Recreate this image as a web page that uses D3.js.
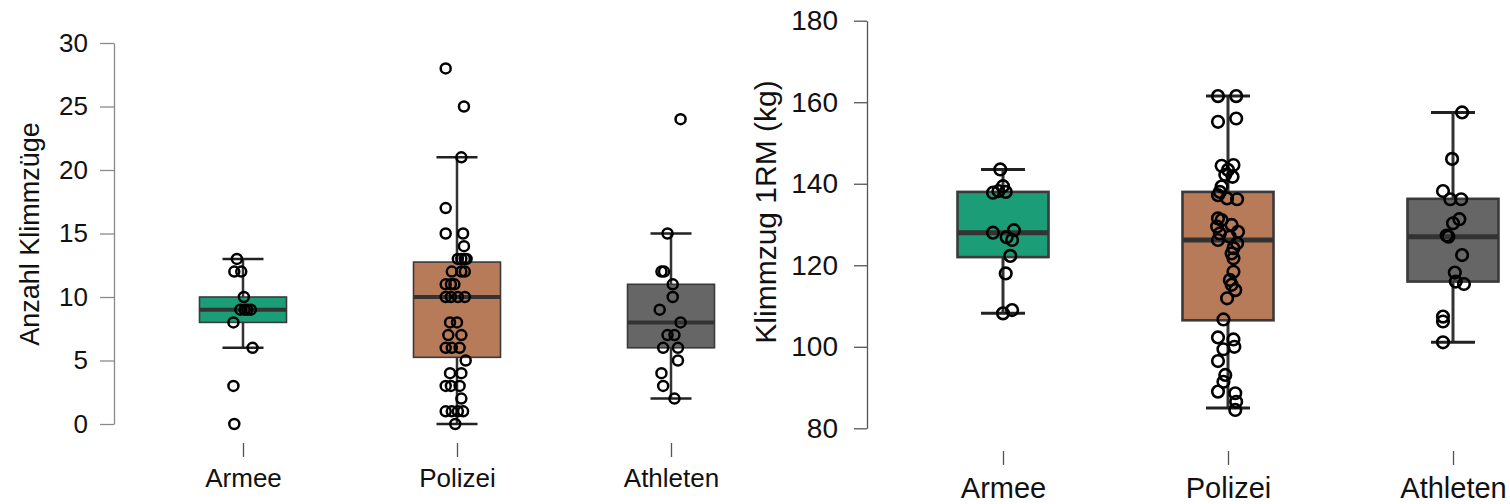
<!DOCTYPE html>
<html>
<head>
<meta charset="utf-8">
<script src="https://cdn.jsdelivr.net/npm/d3@7"></script>
<style>
  html, body { margin: 0; padding: 0; background: #fff; }
  svg { display: block; font-family: "Liberation Sans", Arial, sans-serif; }
</style>
</head>
<body>
<svg id="chart" width="1510" height="504"></svg>
<script>
// Groups
const groups = ["Armee", "Polizei", "Athleten"];
const groupColors = ["#1b9e77", "#b77b5a", "#666666"];

// Panel 1: number of pull-ups
const repsTicks = [0, 5, 10, 15, 20, 25, 30];
const repsQ1 = [8, 5.25, 6];
const repsMedian = [9, 10, 8];
const repsQ3 = [10, 12.75, 11];
const repsWhiskerLow = [6, 0, 2];
const repsWhiskerHigh = [13, 21, 15];

const repsArmee = [13, 12, 12, 10, 9, 9, 9, 9, 8, 6, 3, 0];
const repsArmeeJitter = [-0.07, -0.10, -0.02, 0.01, -0.03, 0.02, 0.05, 0.09, -0.11, 0.11, -0.11, -0.10];
const repsPolizei = [28, 25, 21, 17, 15, 15, 14, 13, 13, 13, 13, 12, 12, 12, 11, 11, 11, 10, 10, 10, 10,
  8, 8, 7, 7, 6, 6, 6, 5, 4, 4, 3, 3, 3, 2, 1, 1, 1, 1, 0];
const repsPolizeiJitter = [-0.13, 0.08, 0.05, -0.13, -0.13, 0.07, 0.08, 0.01, 0.05, 0.09, 0.11, -0.06, 0.05, 0.09,
  -0.13, -0.07, -0.03, -0.13, -0.07, 0.01, 0.09, -0.08, 0.0, -0.10, 0.05, -0.13, -0.06, 0.03, 0.10,
  -0.08, 0.05, -0.13, -0.07, 0.03, 0.05, -0.13, -0.06, 0.01, 0.07, -0.02];
const repsAthleten = [24, 15, 12, 12, 11, 10, 9, 8, 7, 7, 6, 6, 5, 4, 3, 2];
const repsAthletenJitter = [0.11, -0.04, -0.11, -0.08, 0.02, 0.02, -0.13, 0.11, -0.04, 0.04, -0.09, 0.08, 0.08, -0.11, -0.09, 0.04];

// Panel 2: pull-up 1RM in kg
const rmTicks = [80, 100, 120, 140, 160, 180];
const rmQ1 = [122, 106.5, 116];
const rmMedian = [128, 126.2, 127];
const rmQ3 = [138, 138, 136.3];
const rmWhiskerLow = [108.2, 85, 101.1];
const rmWhiskerHigh = [143.5, 161.5, 157.5];

const rmArmee = [143.5, 137.8, 138.2, 139.4, 138, 128, 128.6, 126.9, 126.2, 122.3, 118, 109, 108.2];
const rmArmeeJitter = [-0.03, -0.11, -0.05, 0.0, 0.03, -0.11, 0.12, 0.04, 0.10, 0.08, 0.03, 0.10, 0.0];
const rmPolizei = [161.5, 161.5, 156, 155.2, 144.6, 144.4, 143.4, 142.2, 141.7, 139.3, 138, 137.2, 136.4, 136.2,
  131.5, 131.1, 129.9, 129.5, 128.2, 127.8, 127, 126.2, 125.4, 124.2, 122.9, 121.7, 118.4, 116.4, 115.2,
  113.9, 111.9, 106.7, 102.3, 101.8, 100, 99.4, 96.5, 93.1, 91.4, 89, 88.6, 86.5, 84.5];
const rmPolizeiJitter = [-0.11, 0.09, 0.09, -0.11, 0.06, -0.07, 0.0, -0.03, 0.05, -0.07, -0.09, -0.11, -0.01, 0.10,
  -0.11, -0.07, 0.04, -0.12, 0.11, -0.09, 0.02, -0.11, 0.10, 0.06, 0.04, 0.06, 0.06, 0.02, 0.04,
  0.08, -0.01, -0.05, -0.11, 0.06, 0.07, -0.05, -0.11, -0.03, -0.05, -0.11, 0.08, 0.09, 0.08];
const rmAthleten = [157.5, 146.1, 138.2, 136.2, 136.2, 131.3, 130.3, 127.3, 127, 122.5, 118.2, 116, 115.4, 107.4, 106.2, 101.1];
const rmAthletenJitter = [0.10, -0.01, -0.11, -0.03, 0.09, 0.07, 0.0, -0.07, -0.05, 0.10, 0.02, 0.03, 0.12, -0.11, -0.11, -0.11];

const svg = d3.select("#chart");

function drawPanel(cfg) {
  const g = svg.append("g");
  const y = d3.scaleLinear().domain(cfg.domain).range(cfg.yRange);
  const x = d3.scalePoint().domain(groups).range(cfg.xRange);

  // value axis
  const yAxis = g.append("g")
    .attr("transform", `translate(${cfg.axisX},0)`)
    .call(d3.axisLeft(y).tickValues(cfg.ticks).tickSize(cfg.tickLen).tickSizeOuter(0).tickPadding(cfg.tickPad));
  yAxis.select(".domain").attr("stroke", cfg.axisColor).attr("stroke-width", 1.3);
  yAxis.selectAll(".tick line").attr("stroke", cfg.axisColor).attr("stroke-width", 1.3);
  yAxis.selectAll(".tick text").attr("font-size", cfg.tickFont).attr("fill", "#111")
    .attr("font-family", "Liberation Sans, Arial, sans-serif");

  // axis title
  g.append("text")
    .attr("transform", `translate(${cfg.titleX},${cfg.titleY}) rotate(-90)`)
    .attr("text-anchor", "middle")
    .attr("font-size", cfg.titleFont)
    .attr("fill", "#111")
    .text(cfg.title);

  // category axis
  const xAxis = g.append("g")
    .attr("transform", `translate(0,${cfg.catTickY})`)
    .call(d3.axisBottom(x).tickSize(cfg.catTickLen).tickSizeOuter(0).tickPadding(cfg.catPad));
  xAxis.select(".domain").remove();
  xAxis.selectAll(".tick line").attr("stroke", "#555").attr("stroke-width", 1.3);
  xAxis.selectAll(".tick text").attr("font-size", cfg.catFont).attr("fill", "#111")
    .attr("font-family", "Liberation Sans, Arial, sans-serif");

  const bw = cfg.boxWidth;
  groups.forEach((grp, i) => {
    const cx = x(grp);
    const bg = g.append("g");
    // whisker stem
    bg.append("line")
      .attr("x1", cx).attr("x2", cx)
      .attr("y1", y(cfg.low[i])).attr("y2", y(cfg.high[i]))
      .attr("stroke", "#333").attr("stroke-width", cfg.whiskerStroke);
    // whisker caps
    [cfg.low[i], cfg.high[i]].forEach(v => {
      bg.append("line")
        .attr("x1", cx - cfg.capWidth / 2).attr("x2", cx + cfg.capWidth / 2)
        .attr("y1", y(v)).attr("y2", y(v))
        .attr("stroke", "#222").attr("stroke-width", cfg.whiskerStroke);
    });
    // box
    bg.append("rect")
      .attr("x", cx - bw / 2).attr("width", bw)
      .attr("y", y(cfg.q3[i])).attr("height", y(cfg.q1[i]) - y(cfg.q3[i]))
      .attr("fill", groupColors[i])
      .attr("stroke", "#3a3a3a").attr("stroke-width", cfg.boxStroke);
    // median
    bg.append("line")
      .attr("x1", cx - bw / 2).attr("x2", cx + bw / 2)
      .attr("y1", y(cfg.median[i])).attr("y2", y(cfg.median[i]))
      .attr("stroke", "#333").attr("stroke-width", cfg.medianStroke);
    // individual observations
    const vals = cfg.points[i], jit = cfg.jitter[i];
    bg.selectAll("circle").data(vals).enter().append("circle")
      .attr("cx", (d, k) => cx + jit[k] * bw)
      .attr("cy", d => y(d))
      .attr("r", cfg.pointR)
      .attr("fill", "none")
      .attr("stroke", "#000")
      .attr("stroke-width", cfg.pointStroke);
  });
}

drawPanel({
  domain: [0, 30], yRange: [424, 43], xRange: [243, 671], axisX: 114,
  ticks: repsTicks, tickLen: 14, tickPad: 12, tickFont: 26, axisColor: "#8a8a8a",
  title: "Anzahl Klimmzüge", titleX: 39, titleY: 234, titleFont: 27,
  catTickY: 443, catTickLen: 14, catPad: 12, catFont: 26,
  boxWidth: 87, capWidth: 41, boxStroke: 1.6, whiskerStroke: 2.5, medianStroke: 4,
  pointR: 5, pointStroke: 2.5,
  q1: repsQ1, median: repsMedian, q3: repsQ3, low: repsWhiskerLow, high: repsWhiskerHigh,
  points: [repsArmee, repsPolizei, repsAthleten],
  jitter: [repsArmeeJitter, repsPolizeiJitter, repsAthletenJitter]
});

drawPanel({
  domain: [80, 180], yRange: [428.3, 20.7], xRange: [1003, 1453], axisX: 867,
  ticks: rmTicks, tickLen: 13, tickPad: 16, tickFont: 28, axisColor: "#555",
  title: "Klimmzug 1RM (kg)", titleX: 776, titleY: 212, titleFont: 30,
  catTickY: 451, catTickLen: 14, catPad: 12, catFont: 29,
  boxWidth: 91, capWidth: 44, boxStroke: 2.6, whiskerStroke: 3, medianStroke: 5,
  pointR: 5.8, pointStroke: 2.6,
  q1: rmQ1, median: rmMedian, q3: rmQ3, low: rmWhiskerLow, high: rmWhiskerHigh,
  points: [rmArmee, rmPolizei, rmAthleten],
  jitter: [rmArmeeJitter, rmPolizeiJitter, rmAthletenJitter]
});
</script>
</body>
</html>
